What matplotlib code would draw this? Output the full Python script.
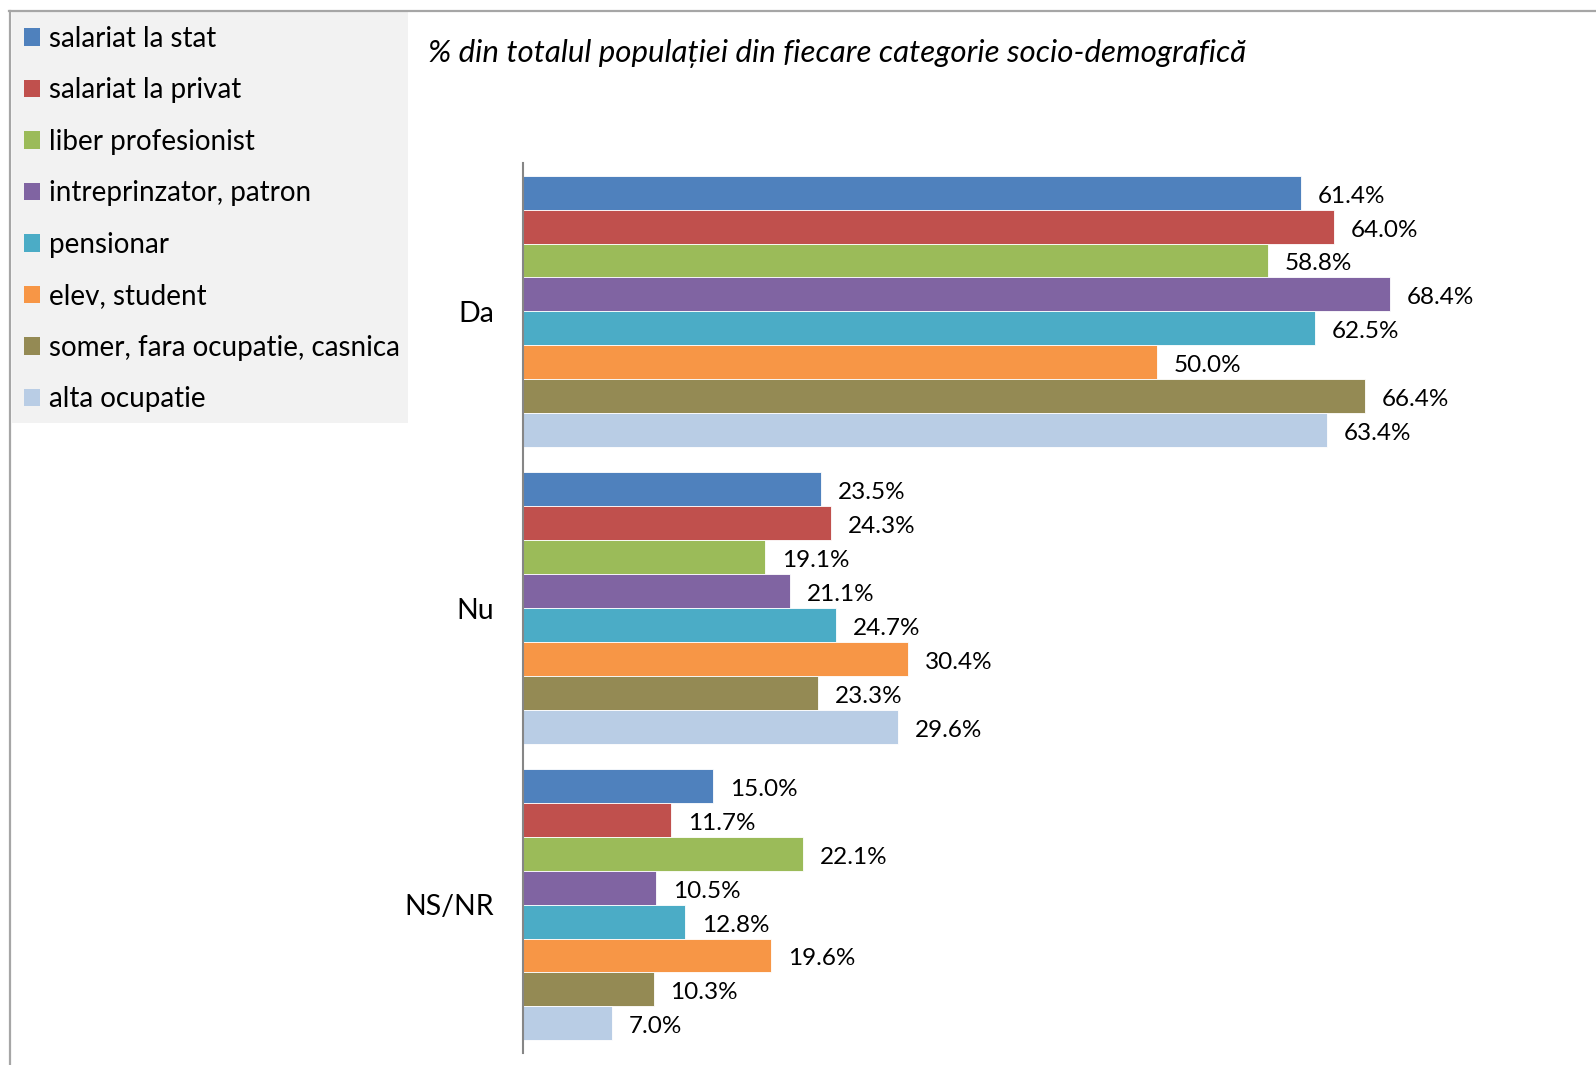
import matplotlib
matplotlib.use("Agg")
import matplotlib.pyplot as plt
import numpy as np
from matplotlib.patches import Patch, Rectangle
from matplotlib.lines import Line2D

categories = ["Da", "Nu", "NS/NR"]
series_names = ["salariat la stat", "salariat la privat", "liber profesionist",
                "intreprinzator, patron", "pensionar", "elev, student",
                "somer, fara ocupatie, casnica", "alta ocupatie"]
values = {
    "salariat la stat": [61.4, 23.5, 15.0],
    "salariat la privat": [64.0, 24.3, 11.7],
    "liber profesionist": [58.8, 19.1, 22.1],
    "intreprinzator, patron": [68.4, 21.1, 10.5],
    "pensionar": [62.5, 24.7, 12.8],
    "elev, student": [50.0, 30.4, 19.6],
    "somer, fara ocupatie, casnica": [66.4, 23.3, 10.3],
    "alta ocupatie": [63.4, 29.6, 7.0],
}
colors = ["#4F81BD", "#C0504D", "#9BBB59", "#8064A2", "#4BACC6", "#F79646", "#948A54", "#B9CDE5"]
title = "% din totalul populației din fiecare categorie socio-demografică"

plt.rcParams['font.family'] = ['Lato', 'DejaVu Sans']

W, H = 1596, 1065
fig = plt.figure(figsize=(W / 100, H / 100), dpi=100)

ax_left, ax_right, ax_top, ax_bot = 523, 1537, 163, 1053
ax = fig.add_axes([ax_left / W, 1 - ax_bot / H, (ax_right - ax_left) / W, (ax_bot - ax_top) / H])

n = len(series_names)
group_w = 0.914
bh = group_w / n
y = np.arange(len(categories))
for i, (name, c) in enumerate(zip(series_names, colors)):
    ypos = y - group_w / 2 + bh * (i + 0.5)
    vals = values[name]
    ax.barh(ypos, vals, height=bh, color=c, edgecolor='white', linewidth=0.6, label=name)
    for yy, v in zip(ypos, vals):
        ax.annotate(f"{v:.1f}%", (v, yy), xytext=(12, -2.5), textcoords='offset points',
                    va='center', ha='left', fontsize=17.5, color='black')

ax.set_xlim(0, 80)
ax.set_ylim(2.5, -0.5)
ax.set_yticks(y)
ax.set_yticklabels(categories, fontsize=20.5)
ax.tick_params(axis='y', length=0, pad=21)
ax.set_xticks([])
for s in ['top', 'right', 'bottom']:
    ax.spines[s].set_visible(False)
ax.spines['left'].set_color('#868686')
ax.spines['left'].set_linewidth(1.5)

# title
fig.text(428 / W, 1 - 53 / H, title, fontsize=22.5, style='italic', ha='left', va='center')

# legend box
fig.patches.append(Rectangle((12 / W, 1 - 423 / H), (408 - 12) / W, (423 - 12) / H,
                             transform=fig.transFigure, facecolor='#F2F2F2', edgecolor='none', zorder=0))
handles = [Patch(facecolor=c, edgecolor='none') for c in colors]
leg = fig.legend(handles, series_names, loc='upper left', bbox_to_anchor=(18 / W, 1 - 20 / H),
                 frameon=False, fontsize=20, handlelength=0.6, handleheight=0.6,
                 handletextpad=0.3, labelspacing=0.92, borderaxespad=0, borderpad=0.2)

# outer border lines
fig.add_artist(Line2D([9 / W, 1], [1 - 11 / H, 1 - 11 / H], transform=fig.transFigure,
                      color='#A6A6A6', lw=1.6))
fig.add_artist(Line2D([10 / W, 10 / W], [0, 1 - 11 / H], transform=fig.transFigure,
                      color='#A6A6A6', lw=1.6))

fig.savefig("out.png", dpi=100, facecolor='white')
